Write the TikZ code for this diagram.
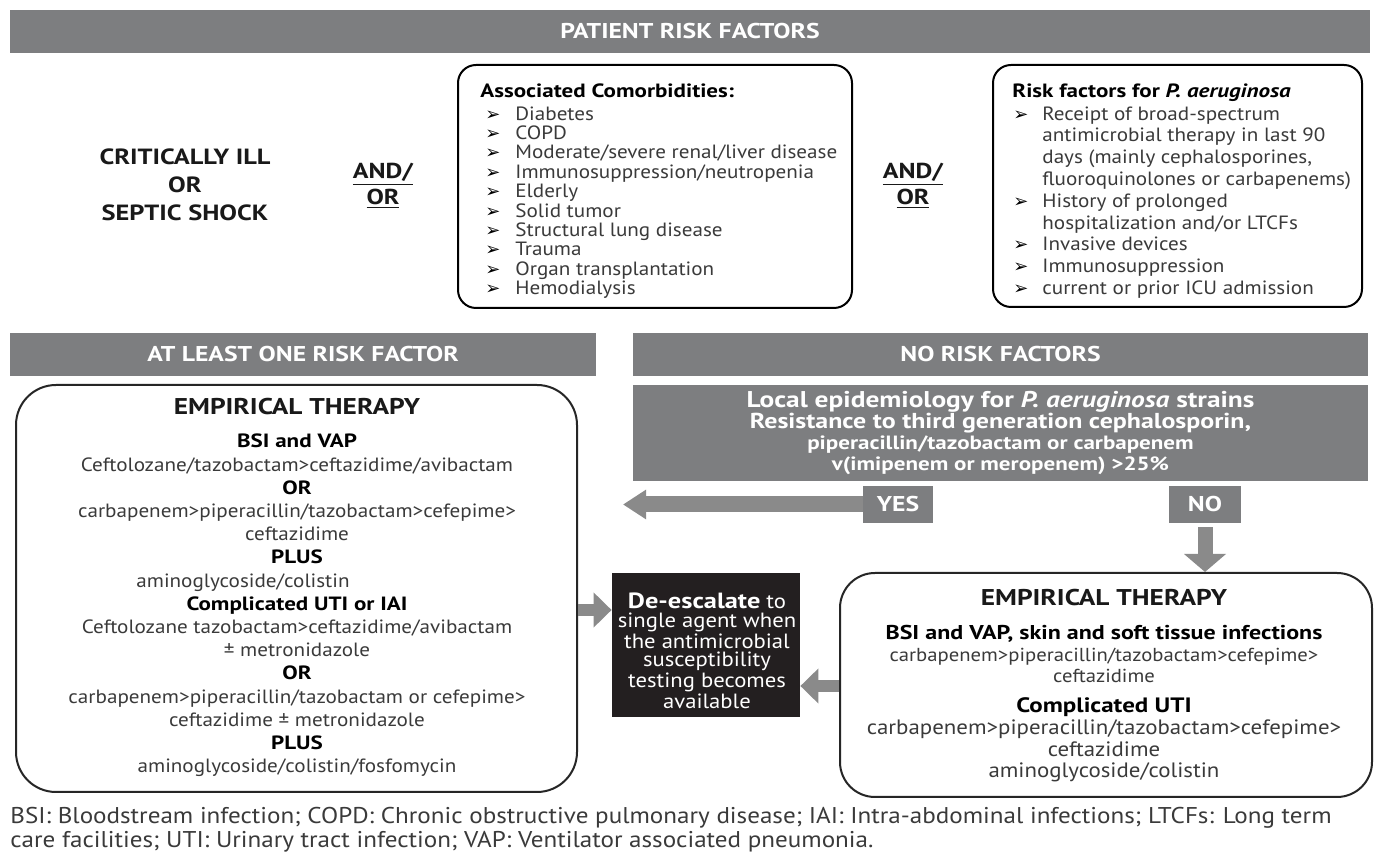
\documentclass[tikz,border=0pt]{standalone}
\usepackage{fontspec}
\setmainfont{PT Sans}[UprightFeatures={FakeStretch=1.1}, ItalicFeatures={FakeStretch=1.1}, BoldFeatures={FakeStretch=1.2}, BoldItalicFeatures={FakeStretch=1.2}]
\newfontfamily\arrowfont{DejaVu Sans}
\usetikzlibrary{arrows.meta}
\definecolor{bannergray}{HTML}{7D7E80}
\definecolor{arrowgray}{HTML}{8A8A8A}
\definecolor{deskblack}{HTML}{231F20}
\definecolor{bodygray}{HTML}{3A3A3A}
\def\bul#1#2{\hspace*{#1}\makebox[#2][l]{\arrowfont\fontsize{9}{9}\selectfont\textcolor{black}{➢}}}
\def\hd#1{\textbf{\textcolor{black}{#1}}}
\def\fs#1{\fontsize{#1}{10.65}\selectfont}
\tikzset{
  banner/.style={fill=bannergray, text=white, inner sep=0pt, font=\bfseries\fontsize{10.7}{12}\selectfont},
  riskbox/.style={draw=black, line width=1pt, rounded corners=9pt, inner sep=0pt},
  therapybox/.style={draw=black!85, line width=1pt, inner sep=0pt},
  listtext/.style={align=left, inner sep=0pt, text=bodygray, font=\fontsize{9.6}{9.7}\selectfont},
  bodytext/.style={align=center, inner sep=0pt, text=bodygray},
  headtext/.style={inner sep=0pt, font=\bfseries\fontsize{11.4}{12}\selectfont, text=black!90},
  andor/.style={align=center, inner sep=0pt, font=\bfseries\fontsize{10.8}{13}\selectfont, text=black!90},
  fatarrow/.style={draw=arrowgray, line width=8pt, -{Triangle[length=11.5pt,width=14pt]}},
}

\begin{document}
\begin{tikzpicture}[x=0.5pt,y=-0.5pt]
%%%%% START %%%%%
\path[use as bounding box, fill=white] (0,0) rectangle (1378,854);

% patient risk factors
\node[banner, minimum width=680pt, minimum height=21.5pt] (patient) at (690,31.5) {PATIENT RISK FACTORS};

\node[andor, font=\bfseries\fontsize{11}{14}\selectfont] (ill) at (185,185) {CRITICALLY ILL\\OR\\SEPTIC SHOCK};
\node[andor] (andorA) at (383,186) {\underline{AND/}\\\underline{OR}};

\node[riskbox, minimum width=197pt, minimum height=121.5pt] (comorb) at (655,186.5) {};
\node[listtext, anchor=north west] (comorblist) at (480,83) {\hd{Associated Comorbidities:}\\[1.8pt]
\bul{2.5pt}{15pt}Diabetes\\
\bul{2.5pt}{15pt}COPD\\
\bul{2.5pt}{15pt}Moderate/severe renal/liver disease\\
\bul{2.5pt}{15pt}Immunosuppression/neutropenia\\
\bul{2.5pt}{15pt}Elderly\\
\bul{2.5pt}{15pt}Solid tumor\\
\bul{2.5pt}{15pt}Structural lung disease\\
\bul{2.5pt}{15pt}Trauma\\
\bul{2.5pt}{15pt}Organ transplantation\\
\bul{2.5pt}{15pt}Hemodialysis};

\node[andor] (andorB) at (913,186) {\underline{AND/}\\\underline{OR}};

\node[riskbox, minimum width=184.5pt, minimum height=121pt] (pseudo) at (1177.5,186) {};
\node[listtext, anchor=north west, font=\fontsize{9.6}{10.9}\selectfont] (pseudolist) at (1012,83) {\hd{Risk factors for \textit{P. aeruginosa}}\\[0.6pt]
\bul{0.5pt}{14.5pt}Receipt of broad-spectrum\\
\hspace*{15pt}antimicrobial therapy in last 90\\
\hspace*{15pt}days (mainly cephalosporines,\\
\hspace*{15pt}fluoroquinolones or carbapenems)\\
\bul{0.5pt}{14.5pt}History of prolonged\\
\hspace*{15pt}hospitalization and/or LTCFs\\
\bul{0.5pt}{14.5pt}Invasive devices\\
\bul{0.5pt}{14.5pt}Immunosuppression\\
\bul{0.5pt}{14.5pt}current or prior ICU admission};

% branches
\node[banner, minimum width=293pt, minimum height=21.5pt] (onerisk) at (303,354.5) {AT LEAST ONE RISK FACTOR};
\node[banner, minimum width=367.5pt, minimum height=21.5pt] (norisk) at (1000.5,354.5) {NO RISK FACTORS};
\node[banner, minimum width=367.5pt, minimum height=48pt, align=center, font=\bfseries\fontsize{10.5}{10.65}\selectfont] (epi) at (1000.5,433) {\fs{11.4}Local epidemiology for \textit{P. aeruginosa} strains\\\fs{10.8}Resistance to third generation cephalosporin,\\\fs{9.6}piperacillin/tazobactam or carbapenem\\\fs{9.6}v(imipenem or meropenem) >25\%};
\node[banner, minimum width=35pt, minimum height=18.5pt] (yes) at (898,504.5) {YES};
\node[banner, minimum width=36pt, minimum height=18.5pt] (no) at (1205,504.5) {NO};
\coordinate (yestip) at (623,504.5);

% empirical therapy, at least one risk factor
\node[therapybox, rounded corners=20pt, minimum width=280.5pt, minimum height=203.5pt] (lbox) at (296.5,588.5) {};
\node[headtext] (ltitle) at (297,407) {EMPIRICAL THERAPY};
\node[bodytext, font=\fontsize{9.6}{11.6}\selectfont] (ltext) at (297,605.5) {\hd{BSI and VAP}\\
Ceftolozane/tazobactam>ceftazidime/avibactam\\
\hd{OR}\\
carbapenem>piperacillin/tazobactam>cefepime>\\
ceftazidime\\
\hd{PLUS}\\
\hbox{aminoglycoside/colistin\kern54pt}\\
\hd{Complicated UTI or IAI}\\
Ceftolozane tazobactam>ceftazidime/avibactam\\
± metronidazole\\
\hd{OR}\\
carbapenem>piperacillin/tazobactam or cefepime>\\
ceftazidime ± metronidazole\\
\hd{PLUS}\\
aminoglycoside/colistin/fosfomycin};

% de-escalation
\node[fill=deskblack, minimum width=94pt, minimum height=72pt, inner sep=0pt] (desc) at (706,645) {};
\node[align=center, text=white, inner sep=0pt, font=\fontsize{10.3}{9.2}\selectfont] (desctext) at (707,651) {{\bfseries\fontsize{11}{9.2}\selectfont De-escalate} to\\single agent when\\the antimicrobial\\susceptibility\\testing becomes\\available};

% empirical therapy, no risk factors
\node[therapybox, rounded corners=17.5pt, minimum width=266pt, minimum height=112pt] (rbox) at (1106,685) {};
\node[headtext] (rtitle) at (1104,598) {EMPIRICAL THERAPY};
\node[bodytext, font=\fontsize{9.4}{10.7}\selectfont] (rtextA) at (1104,654) {{\fontsize{10}{10.7}\selectfont\hd{BSI and VAP, skin and soft tissue infections}}\\
carbapenem>piperacillin/tazobactam>cefepime>\\
ceftazidime};
\node[bodytext, font=\fontsize{10.4}{10.9}\selectfont] (rtextB) at (1104,740) {\hd{Complicated UTI}\\
carbapenem>piperacillin/tazobactam>cefepime>\\
ceftazidime\\
aminoglycoside/colistin};

% arrows
\draw[fatarrow] (yes.west) -- (yestip);
\draw[fatarrow, line width=7.5pt, -{Triangle[length=9pt,width=20.5pt]}] ([yshift=-2pt]no.south) -- (no.south |- rbox.north);
\coordinate (inA) at ([yshift=17.5pt]desc.west);
\draw[fatarrow, line width=6pt, -{Triangle[length=9pt,width=17pt]}] (lbox.east |- inA) -- (inA);
\coordinate (inB) at ([yshift=-20.5pt]desc.east);
\draw[fatarrow, line width=6pt, -{Triangle[length=9pt,width=17pt]}] (rbox.west |- inB) -- (inB);

% abbreviations
\node[anchor=north west, align=left, inner sep=0pt, text=bodygray, font=\fontsize{11.4}{12}\selectfont] (abbrev) at (10,807) {BSI: Bloodstream infection; COPD: Chronic obstructive pulmonary disease; IAI: Intra-abdominal infections; LTCFs: Long term\\care facilities; UTI: Urinary tract infection; VAP: Ventilator associated pneumonia.};
%%%%% END %%%%%
\end{tikzpicture}
\end{document}
